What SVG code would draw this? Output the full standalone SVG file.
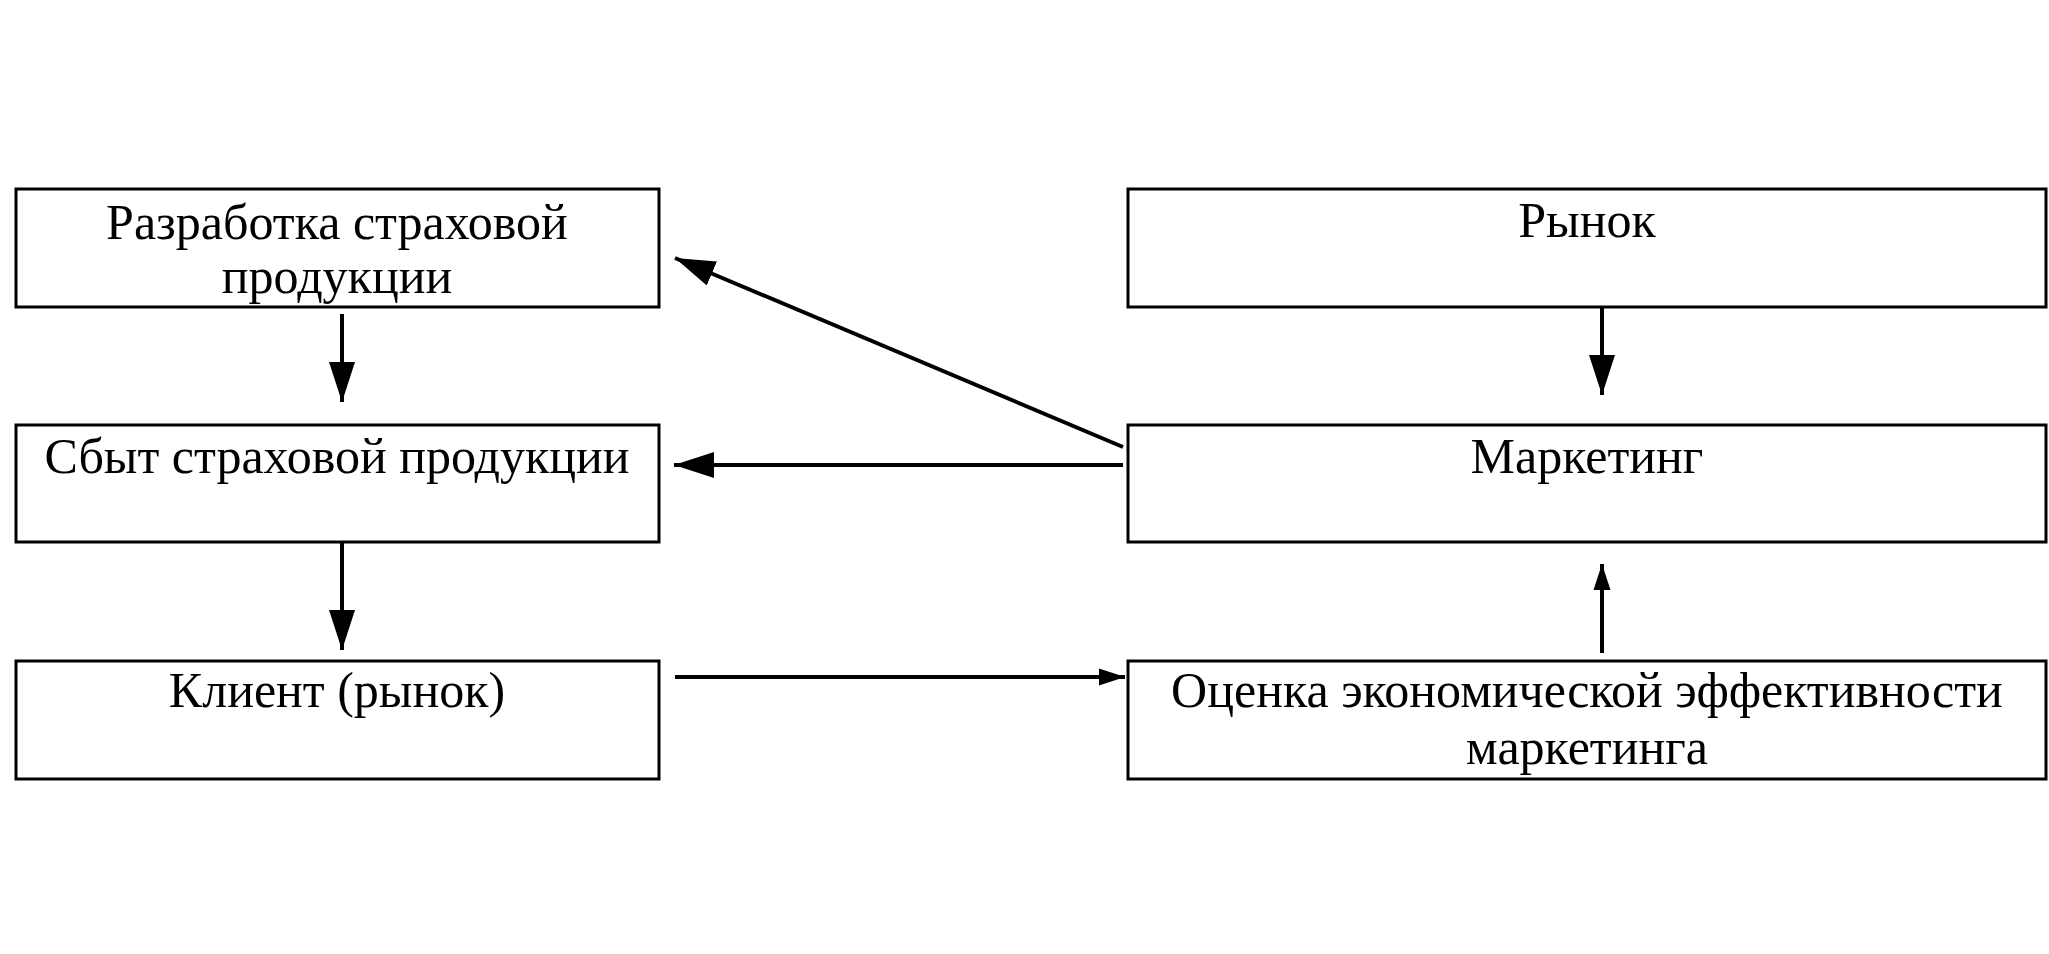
<svg xmlns="http://www.w3.org/2000/svg" width="2049" height="954" viewBox="0 0 2049 954">
<style>
.box{fill:#fff;stroke:#000;stroke-width:3}
.t{font-family:"Liberation Serif","Times New Roman",serif;font-size:50px;fill:#000;text-anchor:middle}
.c{stroke:#000;stroke-width:4;fill:none}
</style>
<defs>
<marker id="ah" markerUnits="userSpaceOnUse" markerWidth="42" markerHeight="26" refX="40" refY="13" orient="auto"><path d="M0,0 L40,13 L0,26 Z" fill="#000"/></marker>
<marker id="ahs" markerUnits="userSpaceOnUse" markerWidth="28" markerHeight="18" refX="26" refY="9" orient="auto"><path d="M0,0.5 L26,9 L0,17.5 Z" fill="#000"/></marker>
</defs>
<rect width="2049" height="954" fill="#fff"/>
<g id="n1"><rect class="box" x="16" y="189" width="643" height="118"/><text class="t" x="337" y="239">Разработка страховой</text><text class="t" x="337" y="293">продукции</text></g>
<g id="n2"><rect class="box" x="16" y="425" width="643" height="117"/><text class="t" x="337" y="473">Сбыт страховой продукции</text></g>
<g id="n3"><rect class="box" x="16" y="661" width="643" height="118"/><text class="t" x="337" y="707">Клиент (рынок)</text></g>
<g id="n4"><rect class="box" x="1128" y="189" width="918" height="118"/><text class="t" x="1587" y="237">Рынок</text></g>
<g id="n5"><rect class="box" x="1128" y="425" width="918" height="117"/><text class="t" x="1587" y="473">Маркетинг</text></g>
<g id="n6"><rect class="box" x="1128" y="661" width="918" height="118"/><text class="t" x="1587" y="707">Оценка экономической эффективности</text><text class="t" x="1587" y="764">маркетинга</text></g>
<g id="connectors">
<line class="c" x1="342" y1="314" x2="342" y2="402" marker-end="url(#ah)"/>
<line class="c" x1="342" y1="542" x2="342" y2="650" marker-end="url(#ah)"/>
<line class="c" x1="1602" y1="307" x2="1602" y2="395" marker-end="url(#ah)"/>
<line class="c" x1="1602" y1="653" x2="1602" y2="564" marker-end="url(#ahs)"/>
<line class="c" x1="1123" y1="447" x2="675" y2="258" marker-end="url(#ah)"/>
<line class="c" x1="1123" y1="465" x2="674" y2="465" marker-end="url(#ah)"/>
<line class="c" x1="675" y1="677" x2="1125" y2="677" marker-end="url(#ahs)"/>
</g>
</svg>
